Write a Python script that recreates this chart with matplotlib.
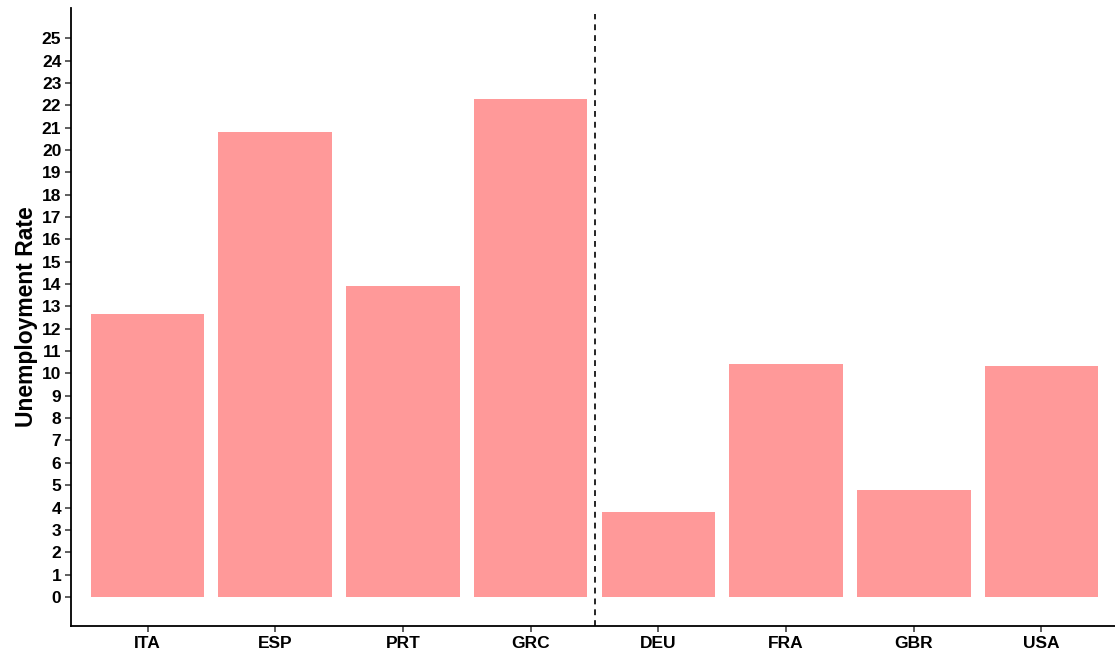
import matplotlib
matplotlib.use("Agg")
import matplotlib.pyplot as plt

countries = ["ITA", "ESP", "PRT", "GRC", "DEU", "FRA", "GBR", "USA"]
rates = [12.65, 20.8, 13.9, 22.3, 3.8, 10.4, 4.8, 10.35]
y_ticks = list(range(0, 26))
divider = 4.5

plt.rcParams['font.family'] = ['Liberation Sans', 'DejaVu Sans']

fig = plt.figure(figsize=(11.15, 6.6), dpi=100)
ax = fig.add_axes([71/1115, 1 - 626/660, (1118 - 71)/1115, (626 - 8)/660])

pos = list(range(1, len(countries) + 1))
ax.bar(pos, rates, width=0.89, color="#FF9999", zorder=2)
ax.axvline(divider, ymin=0, ymax=0.99, color="black", linestyle=(0, (3.5, 3)), linewidth=1.2, zorder=3)

ax.set_xlim(0.4, 8.6)
ax.set_ylim(-1.3, 26.35)
ax.set_xticks(pos)
ax.set_xticklabels(countries, fontsize=12.5, fontweight="bold")
ax.set_yticks(y_ticks)
ax.set_yticklabels([str(t) for t in y_ticks], fontsize=12.5, fontweight="bold")
ax.set_ylabel("Unemployment Rate", fontsize=16.5, fontweight="bold", labelpad=3)

for s in ["top", "right"]:
    ax.spines[s].set_visible(False)
for s in ["left", "bottom"]:
    ax.spines[s].set_linewidth(1.3)
ax.tick_params(axis="both", length=4, width=1.1, color="#333333", pad=3)

fig.savefig("out.png", dpi=100)
